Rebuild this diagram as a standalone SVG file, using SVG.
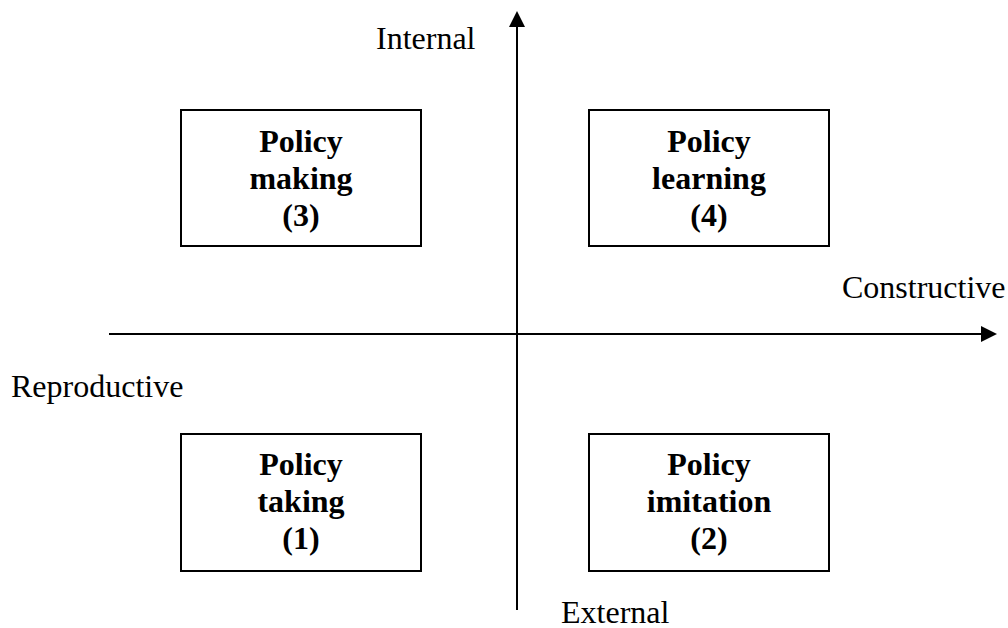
<svg xmlns="http://www.w3.org/2000/svg" width="1008" height="628" viewBox="0 0 1008 628">
  <style>
    .box { fill: #ffffff; stroke: #000000; stroke-width: 2; }
    .axis { stroke: #000000; stroke-width: 2; fill: none; }
    .head { fill: #000000; }
    .title { font-family: "Liberation Serif", "Times New Roman", serif; font-size: 32px; font-weight: bold; text-anchor: middle; fill: #000000; }
    .label { font-family: "Liberation Serif", "Times New Roman", serif; font-size: 32px; fill: #000000; }
  </style>
  <rect width="1008" height="628" fill="#ffffff"/>

  <!-- axes -->
  <g id="connectors">
    <line class="axis" x1="517" y1="610" x2="517" y2="26"/>
    <polygon class="head" points="517,11 509,27 525,27"/>
    <line class="axis" x1="109" y1="334" x2="982" y2="334"/>
    <polygon class="head" points="997,334 981,326 981,342"/>
  </g>

  <!-- axis labels -->
  <g id="axis-labels">
    <text class="label" x="376" y="49">Internal</text>
    <text class="label" x="842" y="298">Constructive</text>
    <text class="label" x="11" y="397">Reproductive</text>
    <text class="label" x="561" y="623">External</text>
  </g>

  <g id="policy-making">
    <rect class="box" x="181" y="110" width="240" height="136"/>
    <text class="title" x="301" y="152">Policy</text>
    <text class="title" x="301" y="189">making</text>
    <text class="title" x="301" y="226">(3)</text>
  </g>

  <g id="policy-learning">
    <rect class="box" x="589" y="110" width="240" height="136"/>
    <text class="title" x="709" y="152">Policy</text>
    <text class="title" x="709" y="189">learning</text>
    <text class="title" x="709" y="226">(4)</text>
  </g>

  <g id="policy-taking">
    <rect class="box" x="181" y="434" width="240" height="137"/>
    <text class="title" x="301" y="475">Policy</text>
    <text class="title" x="301" y="512">taking</text>
    <text class="title" x="301" y="549">(1)</text>
  </g>

  <g id="policy-imitation">
    <rect class="box" x="589" y="434" width="240" height="137"/>
    <text class="title" x="709" y="475">Policy</text>
    <text class="title" x="709" y="512">imitation</text>
    <text class="title" x="709" y="549">(2)</text>
  </g>
</svg>
